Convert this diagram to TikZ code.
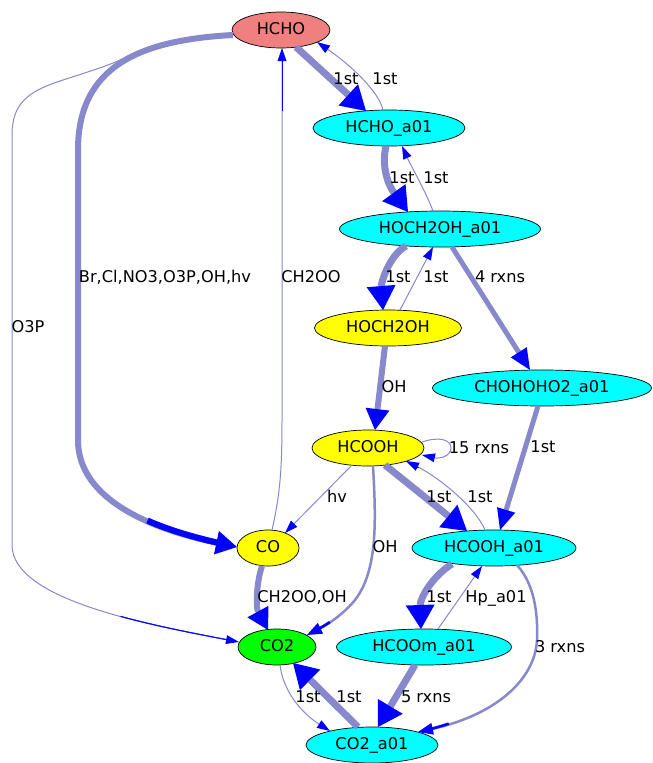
\documentclass[tikz,border=0pt]{standalone}
\usepackage{fontspec}
\setmainfont{DejaVu Sans}
\usetikzlibrary{shapes.geometric,arrows.meta,decorations.markings,calc}
\definecolor{ecol}{HTML}{8888CC}
\definecolor{hchof}{HTML}{F08080}
\definecolor{cyanf}{HTML}{00FFFF}
\definecolor{yelf}{HTML}{FFFF00}
\definecolor{grnf}{HTML}{00FF00}
\definecolor{tipblue}{HTML}{0000FF}
\tikzset{
  nd/.style={ellipse, draw=black, line width=0.7pt, inner sep=0pt, minimum height=36pt,
    text height=12pt, text depth=3.4pt, font=\fontsize{16.2}{18}\selectfont},
  lbl/.style={inner sep=0pt, text height=12pt, text depth=0.5pt, font=\fontsize{16.2}{18}\selectfont},
  fx/.style n args={3}{draw=ecol, line width=#1,
    -{Triangle[length=#2,width=#3,color=tipblue,line width=0pt]},
    postaction={decorate,decoration={markings,
      mark=between positions 0.87 and -#2 step 0.7pt with {\draw[-,tipblue,line width=#1] (-0.5pt,0) -- (0.5pt,0);}}}},
  ethin/.style={fx={1pt}{13pt}{9pt}},
  emed/.style={fx={2.5pt}{15pt}{12pt}},
  ewide/.style={fx={5pt}{21pt}{19pt}},
  ebig/.style={fx={6pt}{21pt}{24pt}},
  ehuge/.style={fx={7pt}{24pt}{29pt}},
}
\begin{document}
\begin{tikzpicture}[x=1pt,y=-1pt]
\path[use as bounding box, fill=white] (0,0) rectangle (653,763);
% nodes
\node[nd, fill=hchof, minimum width=98pt] (HCHO) at (281,30) {HCHO};
\node[nd, fill=cyanf, minimum width=152pt] (HCHOa) at (389,128) {HCHO\_a01};
\node[nd, fill=cyanf, minimum width=201pt] (HOCHa) at (440,229) {HOCH2OH\_a01};
\node[nd, fill=yelf, minimum width=147pt] (HOCH) at (388,328) {HOCH2OH};
\node[nd, fill=cyanf, minimum width=219pt] (CHOHa) at (542,388) {CHOHOHO2\_a01};
\node[nd, fill=yelf, minimum width=112pt] (HCOOH) at (368,448) {HCOOH};
\node[nd, fill=yelf, minimum width=62pt] (CO) at (268,548) {CO};
\node[nd, fill=cyanf, minimum width=164pt] (HCOOHa) at (494,548) {HCOOH\_a01};
\node[nd, fill=grnf, minimum width=78pt] (CO2) at (277,647) {CO2};
\node[nd, fill=cyanf, minimum width=175pt] (HCOOma) at (424,647) {HCOOm\_a01};
\node[nd, fill=cyanf, minimum width=132pt] (CO2a) at (372,745) {CO2\_a01};
% edges
\draw[ehuge] ($(HCHO)+(15,17)$) -- ($(HCHOa)+(-23,-17)$);
\draw[ethin] ($(HCHOa)+(-6,-18)$) .. controls (379,92) and (352,66) .. ($(HCHO)+(36,12)$);
\draw[ehuge] ($(HCHOa)+(-3,18)$) .. controls (381,168) and (389,186) .. ($(HOCHa)+(-32,-17)$);
\draw[ethin] ($(HOCHa)+(-7,-18)$) .. controls (425,190) and (412,168) .. ($(HCHOa)+(13,18)$);
\draw[ehuge] ($(HOCHa)+(-34,17)$) .. controls (388,256) and (381,285) .. ($(HOCH)+(-5,-18)$);
\draw[ethin] ($(HOCH)+(12,-18)$) -- ($(HOCHa)+(-7,18)$);
\draw[ewide] ($(HOCHa)+(12,18)$) -- ($(CHOHa)+(-12,-18)$);
\draw[ebig] ($(HOCH)+(-3,18)$) -- ($(HCOOH)+(7,-18)$);
\draw[ethin] ($(HCOOH)+(54,-6)$) .. controls (440,436) and (451,440) .. (451,448) .. controls (451,456) and (440,459) .. ($(HCOOH)+(54,7)$);
\draw[ethin] ($(HCOOH)+(-16,17)$) -- ($(CO)+(17,-15)$);
\draw[ehuge] ($(HCOOH)+(17,17)$) -- ($(HCOOHa)+(-27,-17)$);
\draw[ethin] ($(HCOOHa)+(-9,-18)$) .. controls (476,508) and (440,478) .. ($(HCOOH)+(38,13)$);
\draw[emed] ($(HCOOH)+(5,18)$) .. controls (376,520) and (378,570) .. (355,600) .. controls (343,615) and (325,626) .. ($(CO2)+(30,-12)$);
\draw[ewide] ($(CHOHa)+(-4,18)$) -- ($(HCOOHa)+(6,-18)$);
\draw[ethin] ($(CO)+(4,-18)$) .. controls (280,495) and (282,470) .. (282,420) -- ($(HCHO)+(1,18)$);
\draw[ethin] ($(HCHO)+(-48,3)$) .. controls (191,36) and (155,42) .. (128,56) .. controls (112,65) and (90,71) .. (60,81) .. controls (30,91) and (12,102) .. (12,135) -- (12,545) .. controls (12,600) and (150,625) .. ($(CO2)+(-38,-5)$);
\draw[ebig] ($(HCHO)+(-48,5)$) .. controls (140,40) and (78,66) .. (78,150) -- (78,440) .. controls (78,510) and (180,535) .. ($(CO)+(-31,-1)$);
\draw[ebig] ($(CO)+(-6,18)$) .. controls (256,584) and (256,608) .. ($(CO2)+(-9,-17)$);
\draw[ehuge] ($(HCOOHa)+(-42,16)$) .. controls (430,578) and (420,600) .. ($(HCOOma)+(-3,-18)$);
\draw[ethin] ($(HCOOma)+(14,-18)$) -- ($(HCOOHa)+(-12,18)$);
\draw[emed] ($(HCOOHa)+(23,17)$) .. controls (535,585) and (538,615) .. (537,640) .. controls (535,680) and (495,715) .. ($(CO2a)+(46,-13)$);
\draw[ehuge] ($(HCOOma)+(-9,18)$) -- ($(CO2a)+(6,-18)$);
\draw[ethin] ($(CO2)+(3,18)$) .. controls (283,690) and (300,712) .. ($(CO2a)+(-42,-14)$);
\draw[ehuge] ($(CO2a)+(-14,-18)$) -- ($(CO2)+(16,16)$);
% labels
\node[lbl] (l1) at (346,79) {1st};
\node[lbl] (l2) at (385,79) {1st};
\node[lbl] (l3) at (402,178) {1st};
\node[lbl] (l4) at (436,178) {1st};
\node[lbl] (l5) at (398,277) {1st};
\node[lbl] (l6) at (436,277) {1st};
\node[lbl] (l7) at (500,277) {4 rxns};
\node[lbl] (l8) at (394,387) {OH};
\node[lbl] (l9) at (479,448) {15 rxns};
\node[lbl] (l10) at (337,497) {hv};
\node[lbl] (l11) at (439,497) {1st};
\node[lbl] (l12) at (480,497) {1st};
\node[lbl] (l13) at (385,547) {OH};
\node[lbl] (l14) at (543,447) {1st};
\node[lbl] (l15) at (311,277) {CH2OO};
\node[lbl] (l16) at (165,277) {Br,Cl,NO3,O3P,OH,hv};
\node[lbl] (l17) at (28,327) {O3P};
\node[lbl] (l18) at (302,597) {CH2OO,OH};
\node[lbl] (l19) at (439,597) {1st};
\node[lbl] (l20) at (496,597) {Hp\_a01};
\node[lbl] (l21) at (560,647) {3 rxns};
\node[lbl] (l22) at (426,697) {5 rxns};
\node[lbl] (l23) at (308,697) {1st};
\node[lbl] (l24) at (349,697) {1st};
\end{tikzpicture}
\end{document}
